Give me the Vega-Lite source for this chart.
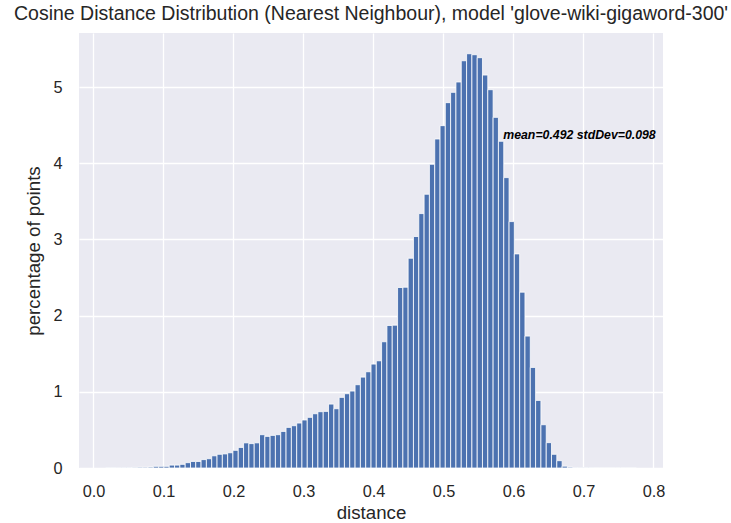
{
  "$schema": "https://vega.github.io/schema/vega-lite/v6.json",
  "autosize": {"type": "none"},
  "padding": {"left": 79, "top": 33, "right": 68, "bottom": 55},
  "width": 584,
  "height": 435,
  "background": "white",
  "config": {
    "view": {"fill": "#EAEAF2", "stroke": null},
    "font": "Liberation Sans",
    "axis": {
      "domain": false, "ticks": false, "gridColor": "white", "gridWidth": 1.3,
      "labelFont": "Liberation Sans", "labelFontSize": 16.3, "labelColor": "#262626",
      "titleFont": "Liberation Sans", "titleFontSize": 18.7, "titleFontWeight": "normal", "titleColor": "#262626"
    }
  },
  "title": {"text": "Cosine Distance Distribution (Nearest Neighbour), model 'glove-wiki-gigaword-300'", "font": "Liberation Sans", "fontSize": 19.5, "fontWeight": "normal", "color": "#262626", "offset": 9, "anchor": "middle"},
  "datasets": {
    "bins": [
      {"start": 0.0172, "end": 0.0248, "pct": 0.002},
      {"start": 0.0248, "end": 0.0324, "pct": 0.002},
      {"start": 0.0324, "end": 0.0400, "pct": 0.003},
      {"start": 0.0400, "end": 0.0475, "pct": 0.005},
      {"start": 0.0475, "end": 0.0551, "pct": 0.005},
      {"start": 0.0551, "end": 0.0627, "pct": 0.008},
      {"start": 0.0627, "end": 0.0703, "pct": 0.01},
      {"start": 0.0703, "end": 0.0779, "pct": 0.01},
      {"start": 0.0779, "end": 0.0855, "pct": 0.012},
      {"start": 0.0855, "end": 0.0931, "pct": 0.022},
      {"start": 0.0931, "end": 0.1006, "pct": 0.022},
      {"start": 0.1006, "end": 0.1082, "pct": 0.022},
      {"start": 0.1082, "end": 0.1158, "pct": 0.038},
      {"start": 0.1158, "end": 0.1234, "pct": 0.038},
      {"start": 0.1234, "end": 0.1310, "pct": 0.048},
      {"start": 0.1310, "end": 0.1386, "pct": 0.07},
      {"start": 0.1386, "end": 0.1461, "pct": 0.086},
      {"start": 0.1461, "end": 0.1537, "pct": 0.086},
      {"start": 0.1537, "end": 0.1613, "pct": 0.11},
      {"start": 0.1613, "end": 0.1689, "pct": 0.122},
      {"start": 0.1689, "end": 0.1765, "pct": 0.16},
      {"start": 0.1765, "end": 0.1841, "pct": 0.18},
      {"start": 0.1841, "end": 0.1917, "pct": 0.185},
      {"start": 0.1917, "end": 0.1992, "pct": 0.2},
      {"start": 0.1992, "end": 0.2068, "pct": 0.232},
      {"start": 0.2068, "end": 0.2144, "pct": 0.27},
      {"start": 0.2144, "end": 0.2220, "pct": 0.33},
      {"start": 0.2220, "end": 0.2296, "pct": 0.32},
      {"start": 0.2296, "end": 0.2372, "pct": 0.33},
      {"start": 0.2372, "end": 0.2448, "pct": 0.437},
      {"start": 0.2448, "end": 0.2523, "pct": 0.415},
      {"start": 0.2523, "end": 0.2599, "pct": 0.428},
      {"start": 0.2599, "end": 0.2675, "pct": 0.437},
      {"start": 0.2675, "end": 0.2751, "pct": 0.48},
      {"start": 0.2751, "end": 0.2827, "pct": 0.533},
      {"start": 0.2827, "end": 0.2903, "pct": 0.555},
      {"start": 0.2903, "end": 0.2978, "pct": 0.59},
      {"start": 0.2978, "end": 0.3054, "pct": 0.63},
      {"start": 0.3054, "end": 0.3130, "pct": 0.665},
      {"start": 0.3130, "end": 0.3206, "pct": 0.712},
      {"start": 0.3206, "end": 0.3282, "pct": 0.739},
      {"start": 0.3282, "end": 0.3358, "pct": 0.743},
      {"start": 0.3358, "end": 0.3434, "pct": 0.839},
      {"start": 0.3434, "end": 0.3509, "pct": 0.778},
      {"start": 0.3509, "end": 0.3585, "pct": 0.927},
      {"start": 0.3585, "end": 0.3661, "pct": 0.975},
      {"start": 0.3661, "end": 0.3737, "pct": 1.01},
      {"start": 0.3737, "end": 0.3813, "pct": 1.093},
      {"start": 0.3813, "end": 0.3889, "pct": 1.193},
      {"start": 0.3889, "end": 0.3965, "pct": 1.263},
      {"start": 0.3965, "end": 0.4040, "pct": 1.364},
      {"start": 0.4040, "end": 0.4116, "pct": 1.407},
      {"start": 0.4116, "end": 0.4192, "pct": 1.657},
      {"start": 0.4192, "end": 0.4268, "pct": 1.871},
      {"start": 0.4268, "end": 0.4344, "pct": 1.875},
      {"start": 0.4344, "end": 0.4420, "pct": 2.369},
      {"start": 0.4420, "end": 0.4495, "pct": 2.373},
      {"start": 0.4495, "end": 0.4571, "pct": 2.753},
      {"start": 0.4571, "end": 0.4647, "pct": 3.038},
      {"start": 0.4647, "end": 0.4723, "pct": 3.339},
      {"start": 0.4723, "end": 0.4799, "pct": 3.593},
      {"start": 0.4799, "end": 0.4875, "pct": 3.986},
      {"start": 0.4875, "end": 0.4951, "pct": 4.318},
      {"start": 0.4951, "end": 0.5026, "pct": 4.493},
      {"start": 0.5026, "end": 0.5102, "pct": 4.795},
      {"start": 0.5102, "end": 0.5178, "pct": 4.93},
      {"start": 0.5178, "end": 0.5254, "pct": 5.066},
      {"start": 0.5254, "end": 0.5330, "pct": 5.345},
      {"start": 0.5330, "end": 0.5406, "pct": 5.437},
      {"start": 0.5406, "end": 0.5482, "pct": 5.424},
      {"start": 0.5482, "end": 0.5557, "pct": 5.385},
      {"start": 0.5557, "end": 0.5633, "pct": 5.157},
      {"start": 0.5633, "end": 0.5709, "pct": 4.965},
      {"start": 0.5709, "end": 0.5785, "pct": 4.602},
      {"start": 0.5785, "end": 0.5861, "pct": 4.288},
      {"start": 0.5861, "end": 0.5937, "pct": 3.811},
      {"start": 0.5937, "end": 0.6012, "pct": 3.234},
      {"start": 0.6012, "end": 0.6088, "pct": 2.81},
      {"start": 0.6088, "end": 0.6164, "pct": 2.308},
      {"start": 0.6164, "end": 0.6240, "pct": 1.731},
      {"start": 0.6240, "end": 0.6316, "pct": 1.32},
      {"start": 0.6316, "end": 0.6392, "pct": 0.887},
      {"start": 0.6392, "end": 0.6468, "pct": 0.568},
      {"start": 0.6468, "end": 0.6543, "pct": 0.333},
      {"start": 0.6543, "end": 0.6619, "pct": 0.18},
      {"start": 0.6619, "end": 0.6695, "pct": 0.096},
      {"start": 0.6695, "end": 0.6771, "pct": 0.024},
      {"start": 0.6771, "end": 0.6847, "pct": 0.011},
      {"start": 0.6847, "end": 0.6923, "pct": 0.005},
      {"start": 0.6923, "end": 0.6999, "pct": 0.004},
      {"start": 0.6999, "end": 0.7074, "pct": 0.002},
      {"start": 0.7074, "end": 0.7150, "pct": 0.002},
      {"start": 0.7150, "end": 0.7226, "pct": 0.001},
      {"start": 0.7226, "end": 0.7302, "pct": 0.001},
      {"start": 0.7302, "end": 0.7378, "pct": 0.001},
      {"start": 0.7378, "end": 0.7454, "pct": 0.001},
      {"start": 0.7454, "end": 0.7529, "pct": 0.001},
      {"start": 0.7529, "end": 0.7605, "pct": 0.001},
      {"start": 0.7605, "end": 0.7681, "pct": 0.001},
      {"start": 0.7681, "end": 0.7757, "pct": 0.001}
    ],
    "note": [{"x": 0.5854, "y": 4.32, "label": "mean=0.492 stdDev=0.098"}]
  },
  "layer": [
    {
      "data": {"name": "bins"},
      "mark": {"type": "rect", "fill": "#4C72B0", "stroke": "white", "strokeWidth": 0.8},
      "encoding": {
        "x": {"field": "start", "type": "quantitative",
          "scale": {"domain": [-0.0207, 0.8136], "nice": false, "zero": false},
          "axis": {"title": "distance", "values": [0, 0.1, 0.2, 0.3, 0.4, 0.5, 0.6, 0.7, 0.8], "format": ".1f", "labelPadding": 15, "titlePadding": 4}},
        "x2": {"field": "end"},
        "y": {"field": "pct", "type": "quantitative",
          "scale": {"domain": [0, 5.709], "nice": false},
          "axis": {"title": "percentage of points", "values": [0, 1, 2, 3, 4, 5], "format": "d", "labelPadding": 17, "titlePadding": 9}},
        "y2": {"datum": 0}
      }
    },
    {
      "data": {"name": "note"},
      "mark": {"type": "text", "align": "left", "baseline": "alphabetic", "font": "Liberation Sans", "fontSize": 12.3, "fontWeight": "bold", "fontStyle": "italic", "color": "black"},
      "encoding": {
        "x": {"field": "x", "type": "quantitative"},
        "y": {"field": "y", "type": "quantitative"},
        "text": {"field": "label"}
      }
    }
  ]
}
